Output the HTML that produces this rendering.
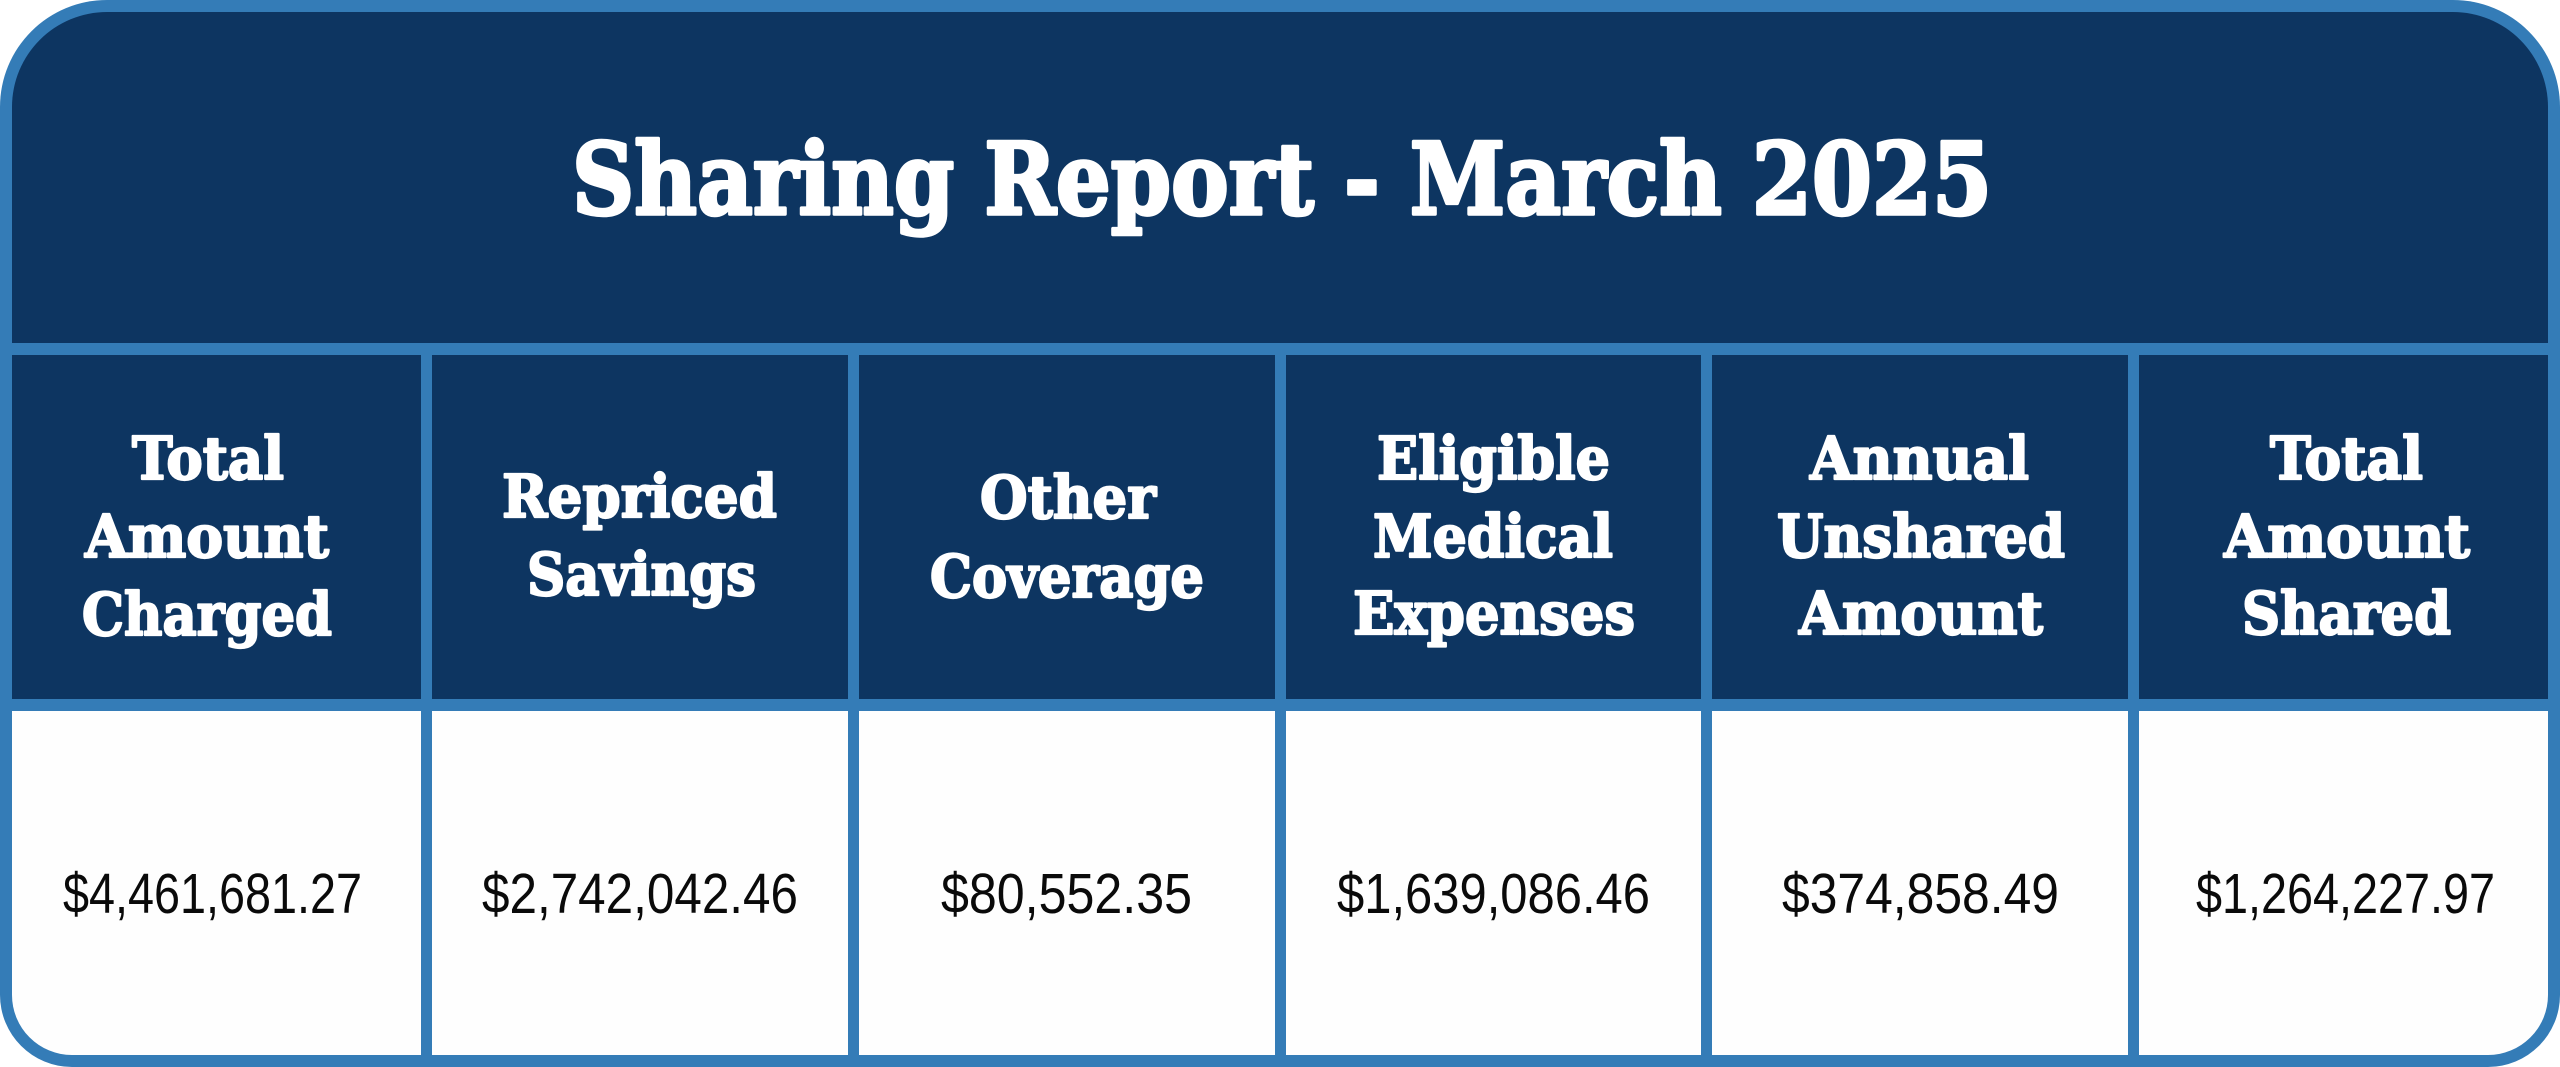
<!DOCTYPE html>
<html>
<head>
<meta charset="utf-8">
<style>
  html, body { margin: 0; padding: 0; background: #ffffff; }
  body { width: 2560px; height: 1067px; overflow: hidden; }
  svg { display: block; }
  .hd { font-family: "DejaVu Serif", "Liberation Serif", serif; font-weight: bold; fill: #ffffff; stroke: #ffffff; stroke-linejoin: round; }
  .val { font-family: "Liberation Sans", "DejaVu Sans", sans-serif; fill: #0a0a0a; }
</style>
</head>
<body>
<svg width="2560" height="1067" viewBox="0 0 2560 1067" xmlns="http://www.w3.org/2000/svg">
  <path d="M107,0 H2453 A107,107 0 0 1 2560,107 V995 A72,72 0 0 1 2488,1067 H72 A72,72 0 0 1 0,995 V107 A107,107 0 0 1 107,0 Z" fill="#347CB7"/>

  <path d="M107,12 H2453 A95,95 0 0 1 2548,107 V343 H12 V107 A95,95 0 0 1 107,12 Z" fill="#0D3561"/>

  <rect x="12" y="355" width="409" height="344" fill="#0D3561"/>
  <rect x="432" y="355" width="416" height="344" fill="#0D3561"/>
  <rect x="859" y="355" width="416" height="344" fill="#0D3561"/>
  <rect x="1286" y="355" width="415" height="344" fill="#0D3561"/>
  <rect x="1712" y="355" width="416" height="344" fill="#0D3561"/>
  <rect x="2139" y="355" width="409" height="344" fill="#0D3561"/>

  <path d="M12,711 H421 V1055 H72 A60,60 0 0 1 12,995 Z" fill="#FEFEFE"/>
  <rect x="432" y="711" width="416" height="344" fill="#FEFEFE"/>
  <rect x="859" y="711" width="416" height="344" fill="#FEFEFE"/>
  <rect x="1286" y="711" width="415" height="344" fill="#FEFEFE"/>
  <rect x="1712" y="711" width="416" height="344" fill="#FEFEFE"/>
  <path d="M2139,711 H2548 V995 A60,60 0 0 1 2488,1055 H2139 Z" fill="#FEFEFE"/>

  <text class="hd" x="572" y="214" font-size="99" stroke-width="3.5" textLength="1420" lengthAdjust="spacingAndGlyphs">Sharing Report - March 2025</text>

  <g font-size="59" stroke-width="2.2">
    <text class="hd" x="132" y="479" textLength="152" lengthAdjust="spacingAndGlyphs">Total</text>
    <text class="hd" x="85" y="557" textLength="244" lengthAdjust="spacingAndGlyphs">Amount</text>
    <text class="hd" x="82" y="635" textLength="250" lengthAdjust="spacingAndGlyphs">Charged</text>

    <text class="hd" x="502" y="517" textLength="275" lengthAdjust="spacingAndGlyphs">Repriced</text>
    <text class="hd" x="527" y="595" textLength="229" lengthAdjust="spacingAndGlyphs">Savings</text>

    <text class="hd" x="980" y="518" textLength="176" lengthAdjust="spacingAndGlyphs">Other</text>
    <text class="hd" x="930" y="597" textLength="274" lengthAdjust="spacingAndGlyphs">Coverage</text>

    <text class="hd" x="1377" y="479" textLength="233" lengthAdjust="spacingAndGlyphs">Eligible</text>
    <text class="hd" x="1373" y="557" textLength="240" lengthAdjust="spacingAndGlyphs">Medical</text>
    <text class="hd" x="1353" y="634" textLength="282" lengthAdjust="spacingAndGlyphs">Expenses</text>

    <text class="hd" x="1810" y="479" textLength="219" lengthAdjust="spacingAndGlyphs">Annual</text>
    <text class="hd" x="1777" y="557" textLength="288" lengthAdjust="spacingAndGlyphs">Unshared</text>
    <text class="hd" x="1799" y="634" textLength="244" lengthAdjust="spacingAndGlyphs">Amount</text>

    <text class="hd" x="2270" y="479" textLength="153" lengthAdjust="spacingAndGlyphs">Total</text>
    <text class="hd" x="2224" y="557" textLength="246" lengthAdjust="spacingAndGlyphs">Amount</text>
    <text class="hd" x="2242" y="634" textLength="209" lengthAdjust="spacingAndGlyphs">Shared</text>
  </g>

  <g font-size="57">
    <text class="val" x="63" y="913" textLength="299" lengthAdjust="spacingAndGlyphs">$4,461,681.27</text>
    <text class="val" x="482" y="913" textLength="316" lengthAdjust="spacingAndGlyphs">$2,742,042.46</text>
    <text class="val" x="941" y="913" textLength="251" lengthAdjust="spacingAndGlyphs">$80,552.35</text>
    <text class="val" x="1337" y="913" textLength="313" lengthAdjust="spacingAndGlyphs">$1,639,086.46</text>
    <text class="val" x="1782" y="913" textLength="277" lengthAdjust="spacingAndGlyphs">$374,858.49</text>
    <text class="val" x="2196" y="913" textLength="299" lengthAdjust="spacingAndGlyphs">$1,264,227.97</text>
  </g>
</svg>
</body>
</html>
